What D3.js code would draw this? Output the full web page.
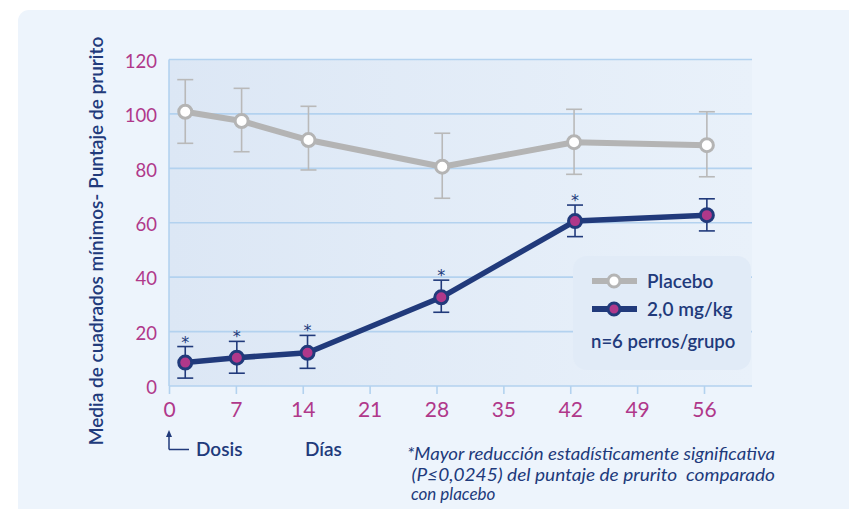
<!DOCTYPE html>
<html>
<head>
<meta charset="utf-8">
<script src="https://cdn.jsdelivr.net/npm/d3@7"></script>
<style>
  html, body { margin: 0; padding: 0; background: #ffffff; }
  svg { display: block; font-family: Lato, "Noto Sans", sans-serif; }
</style>
</head>
<body>
<svg id="chart" width="849" height="509"></svg>
<script>
// Study days and mean pruritus scores (least squares means) with error limits
const placeboDays  = [1.7, 7.6, 14.6, 28.6, 42.4, 56.3];
const placeboMean  = [100.8, 97.4, 90.4, 80.6, 89.6, 88.5];
const placeboUpper = [112.6, 109.4, 102.8, 92.9, 101.7, 100.8];
const placeboLower = [89.2, 86.1, 79.4, 69.0, 77.8, 76.9];

const doseDays  = [1.7, 7.1, 14.5, 28.5, 42.5, 56.3];
const doseMean  = [8.6, 10.4, 12.2, 32.6, 60.6, 62.8];
const doseUpper = [14.5, 16.4, 18.6, 38.9, 66.5, 68.8];
const doseLower = [2.9, 4.7, 6.5, 27.1, 54.9, 57.0];
const doseSignificant = [true, true, true, true, true, false];

const xTicks = [0, 7, 14, 21, 28, 35, 42, 49, 56];
const yTicks = [0, 20, 40, 60, 80, 100, 120];

const yTitle = "Media de cuadrados mínimos- Puntaje de prurito";
const legendLabels = ["Placebo", "2,0 mg/kg"];
const legendNote = "n=6 perros/grupo";
const footnoteLines = [
  "*Mayor reducción estadísticamente significativa",
  " (P≤0,0245) del puntaje de prurito  comparado",
  " con placebo"
];

const navy = "#213a7b", magenta = "#b0388a", grey = "#b4b4b4", gridBlue = "#b3d2ef";

const svg = d3.select("#chart");
const plotLeft = 169, plotRight = 752, plotTop = 59.5, plotBottom = 386;

const x = d3.scaleLinear().domain([0, 56]).range([plotLeft, 704]);
const y = d3.scaleLinear().domain([0, 120]).range([plotBottom, plotTop]);

// Panel background
svg.append("rect").attr("x", 18).attr("y", 10).attr("width", 860).attr("height", 520)
  .attr("rx", 11).attr("fill", "#edf4fc");

// Plot area gradient
const defs = svg.append("defs");
const grad = defs.append("linearGradient").attr("id", "plotBg").attr("x1", 0).attr("x2", 1).attr("y1", 0).attr("y2", 0);
grad.append("stop").attr("offset", 0).attr("stop-color", "#dce7f5");
grad.append("stop").attr("offset", 1).attr("stop-color", "#e9f1fa");
svg.append("rect").attr("x", plotLeft).attr("y", plotTop).attr("width", plotRight - plotLeft).attr("height", plotBottom - plotTop)
  .attr("fill", "url(#plotBg)");

// Horizontal grid lines
svg.append("g").selectAll("line").data(yTicks).join("line")
  .attr("x1", plotLeft).attr("x2", plotRight)
  .attr("y1", d => y(d)).attr("y2", d => y(d))
  .attr("stroke", gridBlue).attr("stroke-width", 1.6);
svg.append("line").attr("x1", plotLeft).attr("x2", plotLeft).attr("y1", plotTop).attr("y2", plotBottom)
  .attr("stroke", gridBlue).attr("stroke-width", 1.6);

// X axis
const xAxis = svg.append("g").attr("transform", `translate(0,${plotBottom})`)
  .call(d3.axisBottom(x).tickValues(xTicks).tickSize(8).tickPadding(8));
xAxis.select(".domain").remove();
xAxis.selectAll(".tick line").attr("stroke", gridBlue).attr("stroke-width", 1.6);
xAxis.selectAll(".tick text").attr("fill", magenta).attr("font-size", 21)
  .attr("font-family", "Lato, sans-serif").attr("dy", "0.71em");

// Y axis labels
const yAxis = svg.append("g").attr("transform", `translate(${plotLeft},0)`)
  .call(d3.axisLeft(y).tickValues(yTicks).tickSize(0).tickPadding(12));
yAxis.select(".domain").remove();
yAxis.selectAll(".tick text").attr("fill", magenta).attr("font-size", 18.5)
  .attr("font-family", "Lato, sans-serif").attr("dy", "0.42em");

// Y axis title
svg.append("text").attr("transform", "translate(103,241) rotate(-90)")
  .attr("text-anchor", "middle").attr("fill", navy).attr("font-size", 19).attr("font-weight", 600)
  .text(yTitle);

// Error bars
function errorBars(days, upper, lower, color) {
  const g = svg.append("g").attr("stroke", color).attr("stroke-width", 1.6).attr("fill", "none");
  days.forEach((d, i) => {
    const cx = x(d);
    g.append("line").attr("x1", cx).attr("x2", cx).attr("y1", y(upper[i])).attr("y2", y(lower[i]));
    g.append("line").attr("x1", cx - 8).attr("x2", cx + 8).attr("y1", y(upper[i])).attr("y2", y(upper[i]));
    g.append("line").attr("x1", cx - 8).attr("x2", cx + 8).attr("y1", y(lower[i])).attr("y2", y(lower[i]));
  });
}
errorBars(placeboDays, placeboUpper, placeboLower, "#b9b9b9");
errorBars(doseDays, doseUpper, doseLower, navy);

const line = d3.line().x(d => x(d[0])).y(d => y(d[1]));

// Placebo series
svg.append("path").datum(placeboDays.map((d, i) => [d, placeboMean[i]]))
  .attr("d", line).attr("fill", "none").attr("stroke", grey).attr("stroke-width", 6)
  .attr("stroke-linejoin", "round");
svg.append("g").selectAll("circle").data(placeboDays).join("circle")
  .attr("cx", d => x(d)).attr("cy", (d, i) => y(placeboMean[i])).attr("r", 6.5)
  .attr("fill", "#ffffff").attr("stroke", grey).attr("stroke-width", 3);

// Treatment series
svg.append("path").datum(doseDays.map((d, i) => [d, doseMean[i]]))
  .attr("d", line).attr("fill", "none").attr("stroke", navy).attr("stroke-width", 5.5)
  .attr("stroke-linejoin", "round");
svg.append("g").selectAll("circle").data(doseDays).join("circle")
  .attr("cx", d => x(d)).attr("cy", (d, i) => y(doseMean[i])).attr("r", 6.5)
  .attr("fill", magenta).attr("stroke", navy).attr("stroke-width", 3);

// Significance markers above the upper error limit
const sigIdx = doseDays.map((d, i) => i).filter(i => doseSignificant[i]);
svg.append("g").selectAll("text").data(sigIdx)
  .join("text")
  .attr("x", i => x(doseDays[i])).attr("y", i => y(doseUpper[i]) + 1)
  .attr("text-anchor", "middle").attr("fill", navy).attr("font-size", 16)
  .attr("font-family", "'DejaVu Sans', sans-serif")
  .text("*");

// Legend
const lg = svg.append("g");
lg.append("rect").attr("x", 573).attr("y", 256).attr("width", 178).attr("height", 114)
  .attr("rx", 14).attr("fill", "#e1ebf7");
lg.append("line").attr("x1", 592).attr("x2", 637).attr("y1", 281).attr("y2", 281)
  .attr("stroke", grey).attr("stroke-width", 6);
lg.append("circle").attr("cx", 614).attr("cy", 281).attr("r", 6).attr("fill", "#fff")
  .attr("stroke", grey).attr("stroke-width", 3);
lg.append("line").attr("x1", 592).attr("x2", 637).attr("y1", 309).attr("y2", 309)
  .attr("stroke", navy).attr("stroke-width", 6);
lg.append("circle").attr("cx", 614).attr("cy", 309).attr("r", 6).attr("fill", magenta)
  .attr("stroke", navy).attr("stroke-width", 3);
lg.append("text").attr("x", 647).attr("y", 287.5).attr("fill", navy).attr("font-size", 19)
  .attr("font-weight", 600).text(legendLabels[0]);
lg.append("text").attr("x", 647).attr("y", 316).attr("fill", navy).attr("font-size", 19)
  .attr("font-weight", 600).text(legendLabels[1]);
lg.append("text").attr("x", 591).attr("y", 348).attr("fill", navy).attr("font-size", 18.5)
  .attr("font-weight", 600).text(legendNote);

// Dosing annotation
svg.append("path").attr("d", "M169,449.5 V435 M169,449.5 H189")
  .attr("stroke", navy).attr("stroke-width", 1.5).attr("fill", "none");
svg.append("path").attr("d", "M169,430 L166,437 L172,437 Z").attr("fill", navy);
svg.append("text").attr("x", 196).attr("y", 456).attr("fill", navy).attr("font-size", 19)
  .attr("font-weight", 600).text("Dosis");
svg.append("text").attr("x", 305).attr("y", 456).attr("fill", navy).attr("font-size", 19)
  .attr("font-weight", 600).text("Días");

// Footnote
const fn = svg.append("g").attr("fill", navy).attr("font-size", 17).attr("font-style", "italic");
const fnX = [407, 407, 407], fnY = [460, 481, 500], fnW = [368, 368, null];
footnoteLines.forEach((t, i) => {
  const tx = fn.append("text").attr("x", fnX[i]).attr("y", fnY[i]).attr("xml:space", "preserve").text(t);
  if (fnW[i]) tx.attr("textLength", fnW[i]).attr("lengthAdjust", "spacingAndGlyphs");
});
</script>
</body>
</html>
